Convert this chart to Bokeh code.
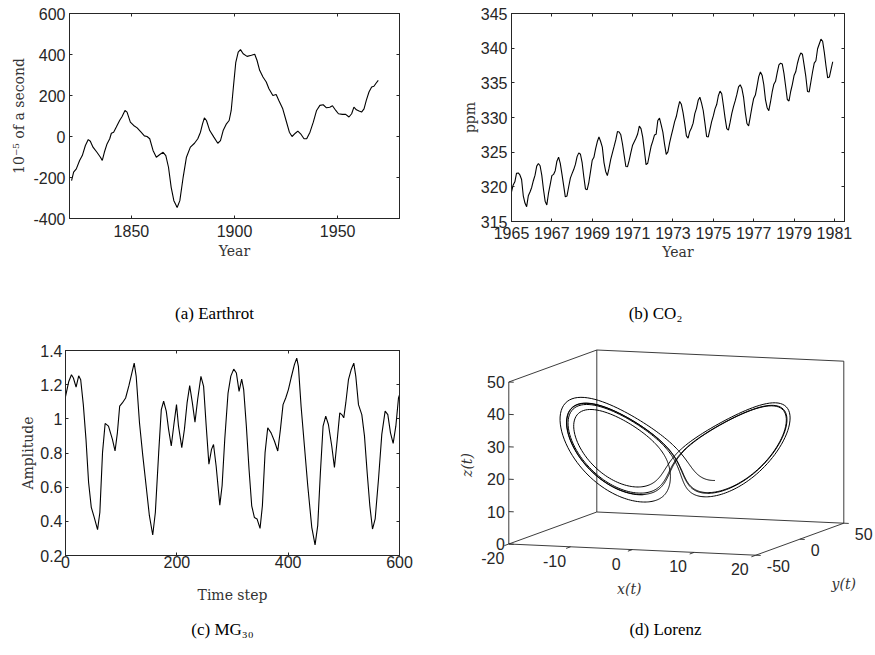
import math
from bokeh.plotting import figure
from bokeh.layouts import column, row
from bokeh.models import Range1d, FixedTicker, LinearAxis
from bokeh.core.properties import value
from bokeh.embed import file_html
from bokeh.resources import INLINE

# ---------------- (a) Earthrot ----------------
EARTHROT_YEAR = [1821.0, 1822.0, 1823.3, 1824.9, 1826.2, 1827.7, 1829.1, 1830.1, 1831.4, 1833.3,
                 1835.0, 1835.9, 1836.9, 1838.2, 1839.5, 1840.3, 1841.4, 1842.7, 1844.3, 1845.5,
                 1846.9, 1847.9, 1849.5, 1851.1, 1852.8, 1854.7, 1856.3, 1857.6, 1858.9, 1860.5,
                 1862.1, 1863.8, 1865.4, 1866.7, 1868.0, 1869.3, 1870.6, 1872.2, 1873.5, 1875.1,
                 1876.7, 1878.6, 1880.6, 1882.2, 1883.5, 1884.5, 1885.4, 1886.4, 1888.0, 1890.0,
                 1891.9, 1893.2, 1894.5, 1896.1, 1897.4, 1898.4, 1899.5, 1900.6, 1901.8, 1902.9,
                 1904.2, 1906.1, 1908.2, 1909.8, 1910.9, 1912.2, 1913.8, 1915.4, 1916.7, 1918.6,
                 1920.2, 1921.5, 1923.4, 1925.0, 1926.6, 1927.9, 1929.5, 1930.7, 1932.3, 1933.7,
                 1935.0, 1936.6, 1938.2, 1939.8, 1941.4, 1943.0, 1944.6, 1946.2, 1947.5, 1949.1,
                 1950.4, 1952.3, 1953.9, 1955.5, 1956.8, 1957.9, 1959.1, 1960.4, 1961.6, 1962.8,
                 1963.9, 1965.2, 1966.5, 1967.6, 1968.7, 1969.7]
EARTHROT_VALUE = [-215, -174, -158, -117, -93, -44, -15, -23, -52, -77,
                  -101, -117, -77, -36, -11, 16, 21, 46, 78, 98,
                  127, 119, 70, 54, 42, 21, 3, 0, -11, -68,
                  -101, -88, -77, -93, -150, -248, -313, -346, -313, -199,
                  -101, -52, -33, -11, 21, 62, 91, 78, 29, -3,
                  -33, -20, 29, 62, 78, 127, 245, 360, 412, 424,
                  404, 391, 396, 401, 372, 323, 290, 266, 233, 200,
                  205, 176, 135, 78, 21, 0, 16, 26, 10, -11,
                  -11, 21, 70, 127, 152, 155, 140, 143, 150, 127,
                  111, 108, 108, 95, 111, 143, 130, 124, 119, 135,
                  176, 217, 241, 245, 261, 274]
EARTHROT_XTICKS = [1850, 1900, 1950]
EARTHROT_XLABELS = ["1850", "1900", "1950"]
EARTHROT_YTICKS = [-400, -200, 0, 200, 400, 600]
EARTHROT_YLABELS = ["-400", "-200", "0", "200", "400", "600"]

# ---------------- (b) CO2 (monthly, Jan 1965 - Dec 1980) ----------------
CO2_START_YEAR = 1965
CO2_PPM = [
    319.27, 320.28, 320.73, 321.97, 322.00, 321.71, 321.05, 318.71, 317.66, 317.14, 318.70, 319.25,
    319.91, 320.88, 321.68, 322.99, 323.36, 323.04, 321.69, 319.65, 317.93, 317.39, 319.08, 320.32,
    321.62, 321.79, 322.33, 323.70, 324.28, 323.38, 321.83, 320.21, 318.55, 318.69, 320.01, 321.25,
    321.90, 322.49, 323.23, 324.36, 324.90, 324.70, 323.48, 321.45, 319.68, 319.59, 320.66, 322.24,
    323.83, 324.26, 325.47, 326.50, 327.21, 326.54, 325.72, 323.50, 322.22, 321.62, 322.69, 323.95,
    324.89, 325.82, 326.77, 327.97, 327.91, 327.50, 326.18, 324.53, 322.93, 322.90, 323.85, 324.96,
    326.01, 326.51, 327.01, 327.62, 328.76, 328.40, 327.20, 325.27, 323.20, 323.40, 324.63, 325.85,
    326.60, 327.47, 327.58, 329.56, 329.90, 328.92, 327.88, 326.16, 324.68, 325.04, 326.34, 327.39,
    328.37, 329.40, 330.14, 331.33, 332.31, 331.90, 330.70, 329.15, 327.35, 327.02, 327.99, 328.48,
    329.18, 330.55, 331.32, 332.48, 332.92, 332.08, 331.01, 329.23, 327.27, 327.21, 328.29, 329.41,
    330.23, 331.25, 331.87, 333.14, 333.80, 333.43, 331.73, 329.90, 328.40, 328.17, 329.32, 330.59,
    331.58, 332.39, 333.33, 334.41, 334.71, 334.17, 332.89, 330.77, 329.14, 328.78, 330.14, 331.52,
    332.75, 333.24, 334.53, 335.90, 336.57, 336.10, 334.76, 332.59, 331.42, 330.98, 332.24, 333.68,
    334.80, 335.22, 336.47, 337.59, 337.84, 337.72, 336.37, 334.51, 332.60, 332.38, 333.75, 334.78,
    336.05, 336.59, 337.79, 338.71, 339.30, 339.12, 337.56, 335.92, 333.75, 333.70, 335.12, 336.56,
    337.84, 338.19, 339.91, 340.60, 341.29, 341.00, 339.39, 337.43, 335.72, 335.84, 336.93, 338.04,
]
CO2_XTICKS = [1965, 1967, 1969, 1971, 1973, 1975, 1977, 1979, 1981]
CO2_XLABELS = [str(t) for t in CO2_XTICKS]
CO2_YTICKS = [315, 320, 325, 330, 335, 340, 345]
CO2_YLABELS = [str(t) for t in CO2_YTICKS]

# ---------------- (c) MG30 (time step, amplitude) ----------------
MG30_POINTS = [
    (0, 1.13), (5.9, 1.219), (10.7, 1.258), (14.2, 1.239), (19.0, 1.186), (23.7, 1.252),
    (27.3, 1.229), (32.0, 1.083), (36.8, 0.880), (41.5, 0.627), (46.3, 0.482), (51.6, 0.423),
    (57.6, 0.351), (61.7, 0.452), (66.5, 0.802), (71.2, 0.973), (77.2, 0.957), (84.3, 0.880),
    (89.0, 0.812), (93.2, 0.918), (97.3, 1.074), (102.1, 1.093), (108.0, 1.122), (113.9, 1.194),
    (119.9, 1.278), (123.4, 1.326), (127.0, 1.249), (132.9, 0.977), (138.9, 0.783), (144.8, 0.608),
    (150.7, 0.433), (156.7, 0.320), (161.4, 0.452), (167.4, 0.802), (172.1, 1.054), (176.3, 1.103),
    (181.0, 1.045), (185.2, 0.938), (190.0, 0.841), (194.7, 0.967), (199.4, 1.083), (203.0, 0.957),
    (208.9, 0.831), (213.6, 0.938), (218.4, 1.093), (223.1, 1.194), (227.9, 1.093), (232.6, 0.981),
    (237.4, 1.113), (243.3, 1.249), (248.1, 1.190), (252.8, 0.957), (257.6, 0.734), (262.3, 0.821),
    (265.9, 0.850), (270.6, 0.724), (277.2, 0.495), (281.3, 0.608), (286.1, 0.880), (292.0, 1.151),
    (297.0, 1.250), (302.2, 1.291), (307.0, 1.268), (311.8, 1.161), (316.5, 1.233), (320.1, 1.171),
    (324.9, 0.957), (329.7, 0.705), (334.5, 0.491), (339.3, 0.423), (344.1, 0.414), (349.5, 0.359),
    (353.7, 0.491), (358.5, 0.802), (363.3, 0.948), (369.3, 0.918), (375.3, 0.870), (381.3, 0.812),
    (386.1, 0.938), (390.8, 1.083), (395.6, 1.122), (400.4, 1.171), (405.2, 1.239), (411.2, 1.317),
    (415.4, 1.355), (418.4, 1.307), (423.2, 1.074), (429.2, 0.841), (435.2, 0.608), (442.4, 0.365),
    (448.3, 0.262), (453.1, 0.375), (457.9, 0.686), (462.7, 0.957), (467.5, 1.016), (472.3, 0.967),
    (478.3, 0.841), (483.1, 0.715), (487.9, 0.870), (492.7, 1.035), (496.3, 1.025), (499.9, 1.006),
    (503.5, 1.093), (508.3, 1.229), (513.1, 1.287), (517.9, 1.326), (521.5, 1.249), (526.3, 1.083),
    (532.3, 1.025), (537.1, 0.899), (541.9, 0.686), (546.7, 0.491), (551.5, 0.355), (556.3, 0.414),
    (562.3, 0.648), (568.2, 0.909), (574.2, 1.045), (579.0, 1.025), (583.8, 0.918), (588.6, 0.856),
    (593.4, 0.957), (598.2, 1.122), (600.0, 1.140),
]
MG_XTICKS = [0, 200, 400, 600]
MG_XLABELS = ["0", "200", "400", "600"]
MG_YTICKS = [0.2, 0.4, 0.6, 0.8, 1.0, 1.2, 1.4]
MG_YLABELS = ["0.2", "0.4", "0.6", "0.8", "1", "1.2", "1.4"]

# ---------------- (d) Lorenz ----------------
LORENZ_SIGMA = 10.0
LORENZ_RHO = 28.0
LORENZ_BETA = 8.0 / 3.0
LORENZ_START = (1.0, 1.0, 1.0)
LORENZ_DT = 0.005
LORENZ_STEPS = 60000
LORENZ_LOOPS_LEFT = 5
LORENZ_LOOPS_RIGHT = 3
LZ_XTICKS = [-20, -10, 0, 10, 20]
LZ_YTICKS = [-50, 0, 50]
LZ_ZTICKS = [0, 10, 20, 30, 40, 50]
LZ_XLIM = (-20, 20)
LZ_YLIM = (-50, 50)
LZ_ZLIM = (0, 50)

CAPTIONS = ["(a) Earthrot", "(b) CO\u2082", "(c) MG\u2083\u2080", "(d) Lorenz"]

# ---------------- styling ----------------
AX = "#262626"
TICK_FONT = "Liberation Sans"
LABEL_FONT = "DejaVu Serif"
CAP_FONT = "Liberation Serif"


def base_fig(w, h, xr, yr, left, right, top, bottom):
    return figure(width=w, height=h, x_range=Range1d(*xr), y_range=Range1d(*yr),
                  output_backend="svg", toolbar_location=None, frame_align=False,
                  min_border_left=left, min_border_right=right,
                  min_border_top=top, min_border_bottom=bottom)


def style_axes(p, xticks, xlabels, yticks, ylabels, xlabel, ylabel, xs, ys, xls, yls):
    p.xgrid.visible = False
    p.ygrid.visible = False
    p.outline_line_color = AX
    p.outline_line_width = 1
    p.background_fill_color = "white"
    p.border_fill_color = "white"
    for ax, ticks, labels, lab, so, lso in ((p.below[0], xticks, xlabels, xlabel, xs, xls),
                                            (p.left[0], yticks, ylabels, ylabel, ys, yls)):
        ax.ticker = FixedTicker(ticks=list(ticks))
        ax.major_label_overrides = dict(zip(ticks, labels))
        ax.major_label_text_font = TICK_FONT
        ax.major_label_text_font_size = "16px"
        ax.major_label_text_color = AX
        ax.major_label_standoff = so
        ax.major_tick_in = 3
        ax.major_tick_out = 0
        ax.major_tick_line_color = AX
        ax.minor_tick_line_color = None
        ax.axis_line_color = AX
        ax.axis_label = lab
        ax.axis_label_text_font = LABEL_FONT
        ax.axis_label_text_font_size = "14px"
        ax.axis_label_text_font_style = "normal"
        ax.axis_label_text_color = "#333333"
        ax.axis_label_standoff = lso
    # mirrored tick marks on the top and right edges (box on), no labels
    for loc, ticks in (("above", xticks), ("right", yticks)):
        m = LinearAxis(ticker=FixedTicker(ticks=list(ticks)), major_label_text_font_size="0px",
                       major_label_text_color=None, major_label_standoff=0,
                       major_tick_in=3, major_tick_out=0, minor_tick_line_color=None,
                       axis_line_color=AX, major_tick_line_color=AX)
        p.add_layout(m, loc)


# (a)  frame: x 69..399, y 13..218
pa = base_fig(450, 266, (1820, 1980), (-400, 600), 69, 51, 13, 48)
pa.line(EARTHROT_YEAR, EARTHROT_VALUE, line_color="black", line_width=1.1)
style_axes(pa, EARTHROT_XTICKS, EARTHROT_XLABELS, EARTHROT_YTICKS, EARTHROT_YLABELS,
           "Year", "10\u207b\u2075 of a second", 6, 4, 3, 3)

# (b)  frame: x 511..844, y 13..221
co2_year = [CO2_START_YEAR + i / 12.0 for i in range(len(CO2_PPM))]
pb = base_fig(424, 266, (1965, 1981.5), (315, 345), 61, 30, 13, 45)
pb.line(co2_year, CO2_PPM, line_color="black", line_width=1.1)
style_axes(pb, CO2_XTICKS, CO2_XLABELS, CO2_YTICKS, CO2_YLABELS, "Year", "ppm", 5, 4, 2, 0)

# (c)  frame: x 65..399, y 350..555
mg_t = [p[0] for p in MG30_POINTS]
mg_v = [p[1] for p in MG30_POINTS]
pc = base_fig(450, 282, (0, 600), (0.2, 1.4), 65, 51, 20, 57)
pc.line(mg_t, mg_v, line_color="black", line_width=1.1)
style_axes(pc, MG_XTICKS, MG_XLABELS, MG_YTICKS, MG_YLABELS, "Time step", "Amplitude", 0, 3, 16, 1)


# (d) Lorenz trajectory
def lorenz_rhs(s):
    x, y, z = s
    return (LORENZ_SIGMA * (y - x), x * (LORENZ_RHO - z) - y, x * y - LORENZ_BETA * z)


def rk4(s, h):
    k1 = lorenz_rhs(s)
    k2 = lorenz_rhs(tuple(s[i] + 0.5 * h * k1[i] for i in range(3)))
    k3 = lorenz_rhs(tuple(s[i] + 0.5 * h * k2[i] for i in range(3)))
    k4 = lorenz_rhs(tuple(s[i] + h * k3[i] for i in range(3)))
    return tuple(s[i] + h / 6.0 * (k1[i] + 2 * k2[i] + 2 * k3[i] + k4[i]) for i in range(3))


state = LORENZ_START
lx, ly, lz = [state[0]], [state[1]], [state[2]]
for _ in range(LORENZ_STEPS):
    state = rk4(state, LORENZ_DT)
    lx.append(state[0]); ly.append(state[1]); lz.append(state[2])

# one z-maximum per loop; pick 8 consecutive large loops (5 on the x<0 wing, 3 on the x>0 wing)
peaks = [i for i in range(1, len(lz) - 1) if lz[i - 1] < lz[i] >= lz[i + 1]]
sides = "".join("L" if lx[i] < 0 else "R" for i in peaks)
nl = LORENZ_LOOPS_LEFT + LORENZ_LOOPS_RIGHT
best = None
for k in range(10, len(peaks) - nl - 1):
    if sides[k:k + nl].count("L") == LORENZ_LOOPS_LEFT:
        zmin = min(lz[peaks[j]] for j in range(k, k + nl))
        if best is None or zmin > best[0]:
            best = (zmin, k)


def zmin_between(a, b):
    return min(range(a, b + 1), key=lambda i: lz[i])


if best is None:
    i0, i1 = 4000, 5300
else:
    k = best[1]
    i0 = zmin_between(peaks[k - 1], peaks[k])
    i1 = zmin_between(peaks[k + nl - 1], peaks[k + nl])

# orthographic view of the box: screen offsets of the three box axes
ORIGIN = (58.3, 68.5)
EX = (247.0, -11.2)
EY = (88.0, 32.0)
EZ = (0.0, 162.0)


def proj(x, y, z):
    fx = (x - LZ_XLIM[0]) / (LZ_XLIM[1] - LZ_XLIM[0])
    fy = (y - LZ_YLIM[0]) / (LZ_YLIM[1] - LZ_YLIM[0])
    fz = (z - LZ_ZLIM[0]) / (LZ_ZLIM[1] - LZ_ZLIM[0])
    return (ORIGIN[0] + fx * EX[0] + fy * EY[0] + fz * EZ[0],
            ORIGIN[1] + fx * EX[1] + fy * EY[1] + fz * EZ[1])


pdd = figure(width=424, height=282, x_range=Range1d(0, 424), y_range=Range1d(0, 282),
             x_axis_type=None, y_axis_type=None, min_border=0, frame_align=False,
             output_backend="svg", toolbar_location=None)
pdd.outline_line_color = None
pdd.grid.visible = False

x0, x1 = LZ_XLIM
y0, y1 = LZ_YLIM
z0, z1 = LZ_ZLIM
edges = [((x0, y0, z0), (x0, y0, z1)), ((x0, y0, z0), (x1, y0, z0)), ((x1, y0, z0), (x1, y1, z0)),
         ((x0, y0, z0), (x0, y1, z0)), ((x0, y0, z1), (x0, y1, z1)), ((x0, y1, z0), (x0, y1, z1)),
         ((x0, y1, z1), (x1, y1, z1)), ((x1, y1, z0), (x1, y1, z1)), ((x0, y1, z0), (x1, y1, z0))]
for zt in LZ_ZTICKS:
    edges.append(((x0, y0, zt), (x0 + 0.8, y0, zt)))
for xt in LZ_XTICKS:
    edges.append(((xt, y0, z0), (xt, y0 - 5, z0)))
for yt in LZ_YTICKS:
    edges.append(((x1, yt, z0), (x1 + 0.8, yt, z0)))
xs_e, ys_e = [], []
for a, b in edges:
    qa, qb = proj(*a), proj(*b)
    xs_e.append([qa[0], qb[0]])
    ys_e.append([qa[1], qb[1]])
pdd.multi_line(xs_e, ys_e, line_color=AX, line_width=0.9)

pts = [proj(lx[i], ly[i], lz[i]) for i in range(i0, i1 + 1)]
pdd.line([q[0] for q in pts], [q[1] for q in pts], line_color="black", line_width=1.0)

tf = dict(text_font=value(TICK_FONT), text_font_size=value("16px"), text_color=AX)
zp = [proj(x0, y0, zt) for zt in LZ_ZTICKS]
pdd.text([q[0] - 4 for q in zp], [q[1] for q in zp], text=[str(t) for t in LZ_ZTICKS],
         text_align="right", text_baseline="middle", **tf)
xp = [proj(xt, y0, z0) for xt in LZ_XTICKS]
pdd.text([q[0] - 16 for q in xp], [q[1] - 14 for q in xp], text=[str(t) for t in LZ_XTICKS],
         text_align="center", text_baseline="middle", **tf)
yp = [proj(x1, yt, z0) for yt in LZ_YTICKS]
pdd.text([q[0] + 11 for q in yp], [q[1] - 11 for q in yp], text=[str(t) for t in LZ_YTICKS],
         text_align="left", text_baseline="middle", **tf)

lf = dict(text_font=value(LABEL_FONT), text_font_size=value("14px"), text_color="#333333",
          text_font_style="italic", text_align="center", text_baseline="middle")
px_l = proj(0, y0, z0)
pdd.text([px_l[0] - 3], [px_l[1] - 39], text=["x(t)"], **lf)
py_l = proj(x1, 0, z0)
pdd.text([py_l[0] + 44], [py_l[1] - 45], text=["y(t)"], **lf)
pz_l = proj(x0, y0, 25)
pdd.text([pz_l[0] - 42], [pz_l[1] - 2], text=["z(t)"], angle=math.pi / 2, **lf)


# captions
def caption_fig(h, xs, y, texts):
    c = figure(width=874, height=h, x_range=Range1d(0, 874), y_range=Range1d(0, h),
               x_axis_type=None, y_axis_type=None, min_border=0, frame_align=False,
               output_backend="svg", toolbar_location=None)
    c.outline_line_color = None
    c.grid.visible = False
    c.text(xs, [y] * len(xs), text=texts, text_font=value(CAP_FONT), text_font_size=value("17px"),
           text_color="black", text_align="center", text_baseline="middle")
    return c


cap1 = caption_fig(64, [214, 655], 17, CAPTIONS[:2])
cap2 = caption_fig(42, [222, 665], 25, CAPTIONS[2:])

layout = column(row(pa, pb), cap1, row(pc, pdd), cap2)
open("out.html", "w").write(file_html(layout, INLINE))
